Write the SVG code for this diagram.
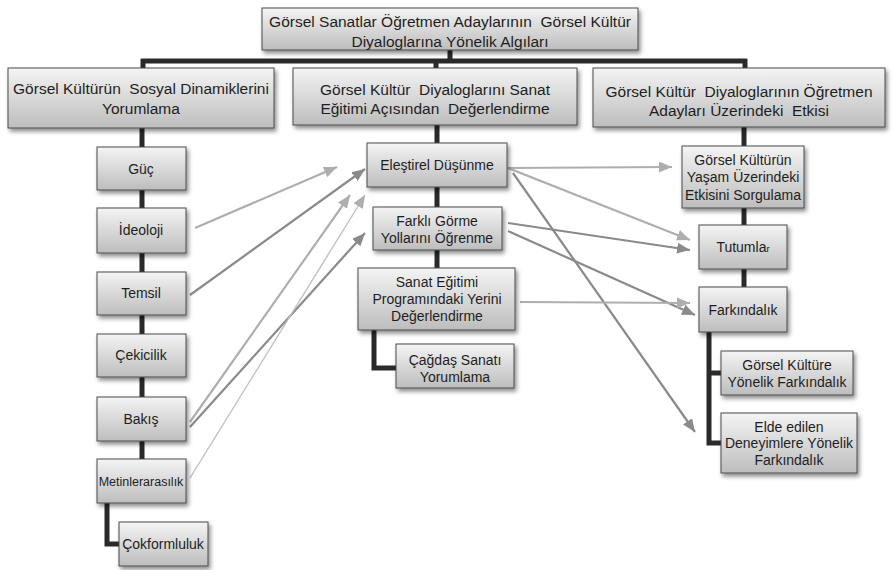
<svg xmlns="http://www.w3.org/2000/svg" width="893" height="570" viewBox="0 0 893 570">
<defs>
<linearGradient id="g" x1="0" y1="0" x2="0" y2="1">
<stop offset="0" stop-color="#f4f4f4"/>
<stop offset="1" stop-color="#bdbdbd"/>
</linearGradient>
<filter id="sh" x="-10%" y="-10%" width="130%" height="140%">
<feDropShadow dx="2" dy="3" stdDeviation="2" flood-color="#000" flood-opacity="0.45"/>
</filter>
<marker id="ah1" markerUnits="userSpaceOnUse" markerWidth="14" markerHeight="11" refX="13" refY="5.5" orient="auto">
<path d="M0,0 L13,5.5 L0,11 z" fill="#aeaeae"/>
</marker>
<marker id="ah2" markerUnits="userSpaceOnUse" markerWidth="14" markerHeight="11" refX="13" refY="5.5" orient="auto">
<path d="M0,0 L13,5.5 L0,11 z" fill="#8a8a8a"/>
</marker>
<style>
.box{fill:url(#g);stroke:#4a4a4a;stroke-width:1;filter:url(#sh)}
.t{font-family:"Liberation Sans",Arial,sans-serif;fill:#1e1e1e;text-anchor:middle}
.h{font-size:15.5px}
.s{font-size:14px}
.c{fill:none;stroke:#2a2a2a;stroke-width:5}
.a1{stroke:#aeaeae;stroke-width:2.2;fill:none;marker-end:url(#ah1)}
.a2{stroke:#8a8a8a;stroke-width:2.2;fill:none;marker-end:url(#ah2)}
.a3{stroke:#c0c0c0;stroke-width:1.4;fill:none;marker-end:url(#ah1)}
</style>
</defs>
<rect width="893" height="570" fill="#ffffff"/>
<g id="connectors">
<path class="c" d="M450,50 V61 M141,61 H747 M143,59 V68 M436,61 V68 M745,59 V68"/>
<path class="c" d="M142,128 V459"/>
<path class="c" d="M107,503 V544 H119"/>
<path class="c" d="M437,125 V268"/>
<path class="c" d="M374,330 V368 H396"/>
<path class="c" d="M744,127 V287"/>
<path class="c" d="M709,332 V443 H721 M709,373 H721"/>
<line class="a1" x1="195" y1="228" x2="337" y2="167"/>
<line class="a2" x1="190" y1="295" x2="365" y2="169"/>
<line class="a1" x1="190" y1="422" x2="350" y2="195"/>
<line class="a2" x1="190" y1="427" x2="365" y2="233"/>
<line class="a3" x1="190" y1="478" x2="365" y2="195"/>
<line class="a1" x1="508" y1="168" x2="672" y2="167"/>
<line class="a1" x1="508" y1="168" x2="690" y2="240"/>
<line class="a2" x1="513" y1="173" x2="695" y2="432"/>
<line class="a2" x1="508" y1="223" x2="690" y2="250"/>
<line class="a2" x1="508" y1="231" x2="695" y2="315"/>
<line class="a1" x1="520" y1="302" x2="690" y2="303"/>
</g>
<g id="root">
<rect class="box" x="262" y="8" width="376" height="42"/>
<text class="t h" x="450" y="26.5" xml:space="preserve">Görsel Sanatlar Öğretmen Adaylarının  Görsel Kültür</text>
<text class="t h" x="450" y="47">Diyaloglarına Yönelik Algıları</text>
</g>
<g id="left-head">
<rect class="box" x="8" y="68" width="266" height="60"/>
<text class="t h" x="141" y="93.5" xml:space="preserve">Görsel Kültürün  Sosyal Dinamiklerini</text>
<text class="t h" x="141" y="113.5">Yorumlama</text>
</g>
<g id="mid-head">
<rect class="box" x="293" y="68" width="284" height="57"/>
<text class="t h" x="435" y="94.5" xml:space="preserve">Görsel Kültür  Diyaloglarını Sanat</text>
<text class="t h" x="435" y="113.5" xml:space="preserve">Eğitimi Açısından  Değerlendirme</text>
</g>
<g id="right-head">
<rect class="box" x="593" y="68" width="292" height="59"/>
<text class="t h" x="739" y="97" xml:space="preserve">Görsel Kültür  Diyaloglarının Öğretmen</text>
<text class="t h" x="739" y="116" xml:space="preserve">Adayları Üzerindeki  Etkisi</text>
</g>
<g id="guc">
<rect class="box" x="97" y="147" width="89" height="43"/>
<text class="t s" x="141" y="174">Güç</text>
</g>
<g id="ideoloji">
<rect class="box" x="97" y="208" width="89" height="45"/>
<text class="t s" x="141" y="235">İdeoloji</text>
</g>
<g id="temsil">
<rect class="box" x="97" y="272" width="89" height="43"/>
<text class="t s" x="141" y="298">Temsil</text>
</g>
<g id="cekicilik">
<rect class="box" x="97" y="334" width="89" height="43"/>
<text class="t s" x="141" y="360">Çekicilik</text>
</g>
<g id="bakis">
<rect class="box" x="97" y="397" width="89" height="44"/>
<text class="t s" x="141" y="424">Bakış</text>
</g>
<g id="metinlerarasilik">
<rect class="box" x="97" y="459" width="89" height="44"/>
<text class="t" x="141" y="485.5" style="font-size:12.5px">Metinlerarasılık</text>
</g>
<g id="cokformluluk">
<rect class="box" x="119" y="522" width="89" height="44"/>
<text class="t s" x="163" y="549">Çokformluluk</text>
</g>
<g id="elestirel">
<rect class="box" x="367" y="143" width="140" height="44"/>
<text class="t s" x="437" y="170">Eleştirel Düşünme</text>
</g>
<g id="farkli">
<rect class="box" x="373" y="207" width="129" height="43"/>
<text class="t s" x="437" y="226">Farklı Görme</text>
<text class="t s" x="437" y="243">Yollarını Öğrenme</text>
</g>
<g id="sanat-egitimi">
<rect class="box" x="358" y="268" width="157" height="62"/>
<text class="t s" x="437" y="287">Sanat Eğitimi</text>
<text class="t s" x="437" y="304">Programındaki Yerini</text>
<text class="t s" x="437" y="321">Değerlendirme</text>
</g>
<g id="cagdas">
<rect class="box" x="396" y="344" width="118" height="44"/>
<text class="t s" x="455" y="365">Çağdaş Sanatı</text>
<text class="t s" x="455" y="382">Yorumlama</text>
</g>
<g id="yasam">
<rect class="box" x="682" y="146" width="122" height="62"/>
<text class="t s" x="743" y="165">Görsel Kültürün</text>
<text class="t s" x="743" y="182">Yaşam Üzerindeki</text>
<text class="t s" x="743" y="200">Etkisini Sorgulama</text>
</g>
<g id="tutumlar">
<rect class="box" x="699" y="225" width="88" height="44"/>
<text class="t s" x="743" y="252">Tutumla<tspan style="font-size:9.5px">r</tspan></text>
</g>
<g id="farkindalik">
<rect class="box" x="699" y="287" width="88" height="45"/>
<text class="t s" x="743" y="315">Farkındalık</text>
</g>
<g id="gorsel-kulture">
<rect class="box" x="721" y="351" width="132" height="44"/>
<text class="t s" x="787" y="370">Görsel Kültüre</text>
<text class="t s" x="787" y="387">Yönelik Farkındalık</text>
</g>
<g id="elde-edilen">
<rect class="box" x="721" y="413" width="136" height="60"/>
<text class="t s" x="789" y="432">Elde edilen</text>
<text class="t s" x="789" y="448">Deneyimlere Yönelik</text>
<text class="t s" x="789" y="465">Farkındalık</text>
</g>
</svg>
